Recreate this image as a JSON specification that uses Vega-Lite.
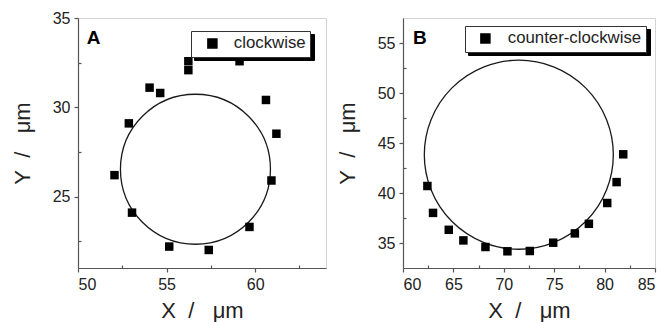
{
  "$schema": "https://vega.github.io/schema/vega-lite/v6.json",
  "background": "white",
  "padding": {"left": 10, "top": 9, "right": 2, "bottom": 0},
  "config": {
    "font": "Liberation Sans",
    "view": {"stroke": "#d4d4d4", "strokeWidth": 1},
    "axis": {
      "grid": false,
      "domainColor": "#555555",
      "domainWidth": 1.2,
      "tickColor": "#555555",
      "tickWidth": 1.2,
      "tickSize": 4,
      "labelFont": "Liberation Sans",
      "labelFontSize": 16,
      "labelColor": "#222222",
      "labelPadding": 4,
      "titleFont": "Liberation Sans",
      "titleFontSize": 22,
      "titleFontWeight": "normal",
      "titleColor": "#222222"
    },
    "axisX": {"titlePadding": 8},
    "axisY": {"titlePadding": 18},
    "concat": {"spacing": 8}
  },
  "datasets": {
    "cw": [
      {"series": "clockwise", "x": 56.23, "y": 32.58},
      {"series": "clockwise", "x": 56.23, "y": 32.08},
      {"series": "clockwise", "x": 59.12, "y": 32.58},
      {"series": "clockwise", "x": 54.04, "y": 31.1},
      {"series": "clockwise", "x": 54.64, "y": 30.8},
      {"series": "clockwise", "x": 60.61, "y": 30.41},
      {"series": "clockwise", "x": 52.87, "y": 29.1},
      {"series": "clockwise", "x": 61.2, "y": 28.52},
      {"series": "clockwise", "x": 52.06, "y": 26.2},
      {"series": "clockwise", "x": 53.05, "y": 24.1},
      {"series": "clockwise", "x": 55.15, "y": 22.2},
      {"series": "clockwise", "x": 57.38, "y": 22.01},
      {"series": "clockwise", "x": 59.68, "y": 23.3},
      {"series": "clockwise", "x": 60.92, "y": 25.9}
    ],
    "ccw": [
      {"series": "counter-clockwise", "x": 62.42, "y": 40.7},
      {"series": "counter-clockwise", "x": 62.98, "y": 38.01},
      {"series": "counter-clockwise", "x": 64.54, "y": 36.32},
      {"series": "counter-clockwise", "x": 65.99, "y": 35.26},
      {"series": "counter-clockwise", "x": 68.18, "y": 34.6},
      {"series": "counter-clockwise", "x": 70.36, "y": 34.17},
      {"series": "counter-clockwise", "x": 72.58, "y": 34.2},
      {"series": "counter-clockwise", "x": 74.9, "y": 35.03},
      {"series": "counter-clockwise", "x": 77.05, "y": 35.96},
      {"series": "counter-clockwise", "x": 78.44, "y": 36.92},
      {"series": "counter-clockwise", "x": 80.26, "y": 39.0},
      {"series": "counter-clockwise", "x": 81.19, "y": 41.09},
      {"series": "counter-clockwise", "x": 81.85, "y": 43.87}
    ],
    "fitA": [{"series": "clockwise", "cx": 56.63, "cy": 26.53}],
    "fitB": [{"series": "counter-clockwise", "cx": 71.49, "cy": 43.83}],
    "panelA": [{"label": "A"}],
    "panelB": [{"label": "B"}]
  },
  "hconcat": [
    {
      "width": 248,
      "height": 250,
      "layer": [
        {
          "data": {"name": "fitA"},
          "mark": {"type": "point", "filled": false, "size": 22500, "stroke": "#1a1a1a", "strokeWidth": 1.3, "opacity": 1},
          "encoding": {
            "x": {"field": "cx", "type": "quantitative", "scale": {"domain": [50, 64], "nice": false, "zero": false},
                  "axis": {"orient": "bottom", "values": [52.5, 57.5, 62.5], "labels": false, "title": null, "domain": false, "tickSize": -3}},
            "y": {"field": "cy", "type": "quantitative", "scale": {"domain": [21, 35], "nice": false, "zero": false},
                  "axis": {"orient": "left", "values": [22.5, 27.5, 32.5], "labels": false, "title": null, "domain": false, "tickSize": -3}},
            "shape": {"field": "series", "type": "nominal", "scale": {"range": ["circle"]},
                      "legend": {"title": null, "orient": "none", "legendX": 116, "legendY": 16, "padding": 4, "symbolType": "square", "symbolSize": 272, "symbolOffset": 81, "labelOffset": 13, "labelFontSize": 16.8, "labelFont": "Liberation Sans", "labelColor": "black", "labelExpr": "''", "symbolOpacity": 0, "fillColor": "black", "strokeColor": "black", "zindex": 1}}
          }
        },
        {
          "data": {"name": "cw"},
          "mark": {"type": "square", "size": 72, "opacity": 1},
          "encoding": {
            "x": {"field": "x", "type": "quantitative", "axis": {"orient": "bottom", "values": [50, 55, 60], "title": "X\u00a0\u00a0/\u00a0\u00a0\u00a0\u03bcm"}},
            "y": {"field": "y", "type": "quantitative", "axis": {"orient": "left", "values": [25, 30, 35], "title": "Y\u00a0\u00a0/\u00a0\u00a0\u00a0\u03bcm"}},
            "color": {"field": "series", "type": "nominal", "scale": {"range": ["black"]},
                      "legend": {"title": null, "orient": "none", "legendX": 113, "legendY": 13, "padding": 4, "symbolType": "square", "symbolSize": 81, "symbolFillColor": "black", "symbolStrokeColor": "black", "symbolOffset": 9, "labelOffset": 13, "labelFontSize": 16.8, "labelFont": "Liberation Sans", "labelColor": "#222222", "fillColor": "white", "strokeColor": "#333333", "zindex": 2}}
          }
        },
        {
          "data": {"name": "panelA"},
          "mark": {"type": "text", "fontSize": 19, "fontWeight": "bold", "align": "left", "baseline": "alphabetic", "color": "black"},
          "encoding": {
            "x": {"datum": 50.5, "type": "quantitative", "axis": null},
            "y": {"datum": 33.54, "type": "quantitative", "axis": null},
            "text": {"field": "label"}
          }
        }
      ],
      "resolve": {"axis": {"x": "independent", "y": "independent"}}
    },
    {
      "width": 252,
      "height": 250,
      "layer": [
        {
          "data": {"name": "fitB"},
          "mark": {"type": "point", "filled": false, "size": 35721, "stroke": "#1a1a1a", "strokeWidth": 1.3, "opacity": 1},
          "encoding": {
            "x": {"field": "cx", "type": "quantitative", "scale": {"domain": [60, 85], "nice": false, "zero": false},
                  "axis": {"orient": "bottom", "values": [62.5, 67.5, 72.5, 77.5, 82.5], "labels": false, "title": null, "domain": false, "tickSize": -3}},
            "y": {"field": "cy", "type": "quantitative", "scale": {"domain": [32.5, 57.5], "nice": false, "zero": false},
                  "axis": {"orient": "left", "values": [37.5, 42.5, 47.5, 52.5], "labels": false, "title": null, "domain": false, "tickSize": -3}},
            "shape": {"field": "series", "type": "nominal", "scale": {"range": ["circle"]},
                      "legend": {"title": null, "orient": "none", "legendX": 65, "legendY": 11, "padding": 4, "symbolType": "square", "symbolSize": 272, "symbolOffset": 142, "labelOffset": 14, "labelFontSize": 16.8, "labelFont": "Liberation Sans", "labelColor": "black", "labelExpr": "''", "symbolOpacity": 0, "fillColor": "black", "strokeColor": "black", "zindex": 1}}
          }
        },
        {
          "data": {"name": "ccw"},
          "mark": {"type": "square", "size": 72, "opacity": 1},
          "encoding": {
            "x": {"field": "x", "type": "quantitative", "axis": {"orient": "bottom", "values": [60, 65, 70, 75, 80, 85], "title": "X\u00a0\u00a0/\u00a0\u00a0\u00a0\u03bcm"}},
            "y": {"field": "y", "type": "quantitative", "axis": {"orient": "left", "values": [35, 40, 45, 50, 55], "title": "Y\u00a0\u00a0/\u00a0\u00a0\u00a0\u03bcm"}},
            "color": {"field": "series", "type": "nominal", "scale": {"range": ["black"]},
                      "legend": {"title": null, "orient": "none", "legendX": 62, "legendY": 8, "padding": 4, "symbolType": "square", "symbolSize": 81, "symbolFillColor": "black", "symbolStrokeColor": "black", "symbolOffset": 8, "labelOffset": 14, "labelFontSize": 16.8, "labelFont": "Liberation Sans", "labelColor": "#222222", "fillColor": "white", "strokeColor": "#333333", "zindex": 2}}
          }
        },
        {
          "data": {"name": "panelB"},
          "mark": {"type": "text", "fontSize": 19, "fontWeight": "bold", "align": "left", "baseline": "alphabetic", "color": "black"},
          "encoding": {
            "x": {"datum": 61.0, "type": "quantitative", "axis": null},
            "y": {"datum": 54.86, "type": "quantitative", "axis": null},
            "text": {"field": "label"}
          }
        }
      ],
      "resolve": {"axis": {"x": "independent", "y": "independent"}}
    }
  ],
  "resolve": {
    "scale": {"color": "independent", "shape": "independent"},
    "legend": {"color": "independent", "shape": "independent"}
  }
}
